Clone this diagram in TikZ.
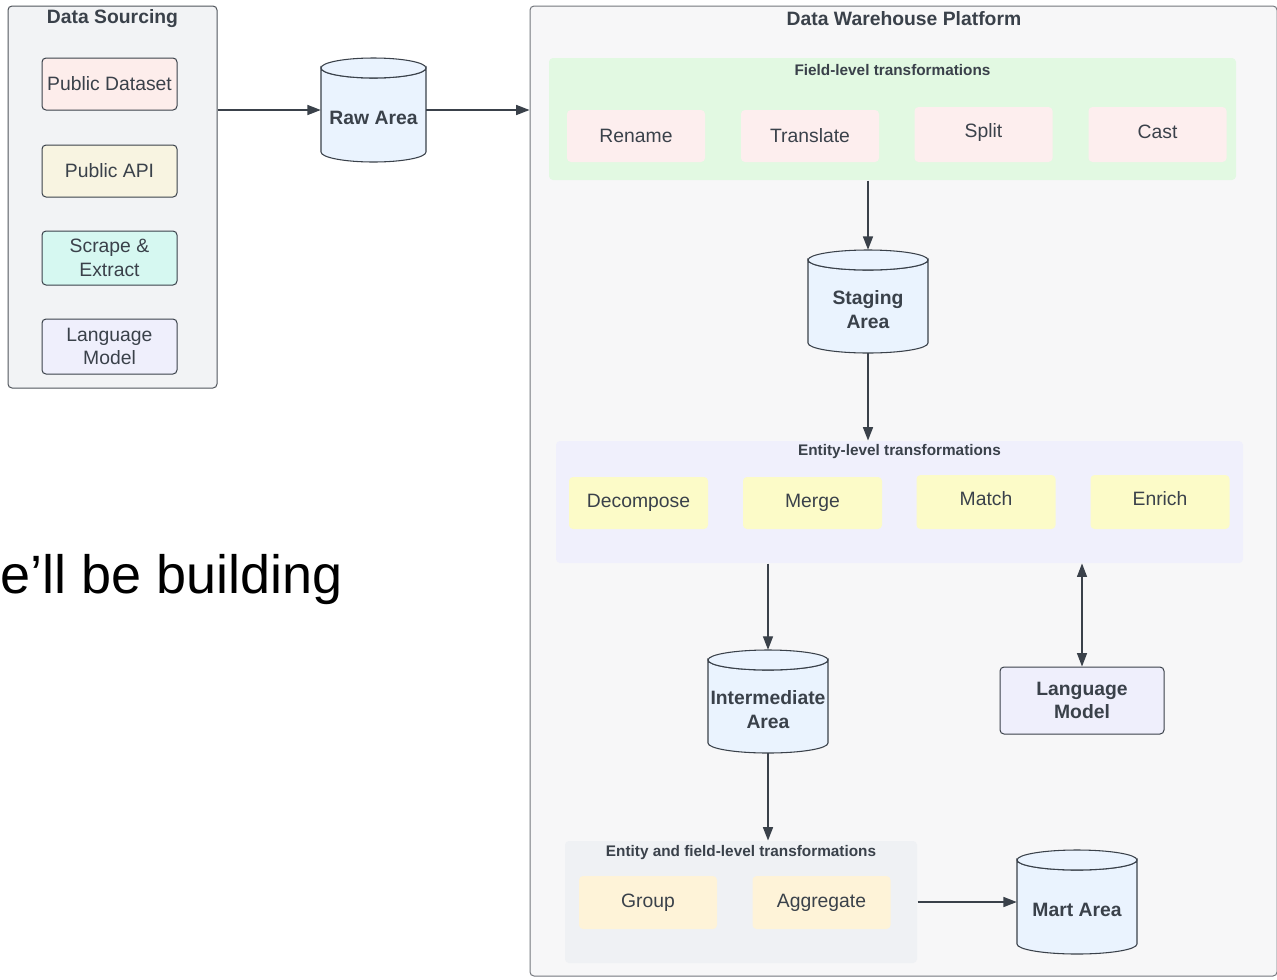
\documentclass[tikz,border=0pt]{standalone}
\usepackage{fontspec}
\setmainfont{Liberation Sans}
\usetikzlibrary{arrows.meta}
\definecolor{ink}{HTML}{3A414A}
\definecolor{dwpfill}{HTML}{F7F7F8}
\definecolor{dwpline}{HTML}{74777D}
\definecolor{dsfill}{HTML}{F2F3F5}
\definecolor{dsline}{HTML}{50555C}
\definecolor{pdfill}{HTML}{FDEDEB}
\definecolor{apifill}{HTML}{F8F4E1}
\definecolor{scrfill}{HTML}{D6F8F1}
\definecolor{lmfill}{HTML}{EFEFFC}
\definecolor{cylfill}{HTML}{EAF3FE}
\definecolor{greenfill}{HTML}{E2F9E2}
\definecolor{pinkfill}{HTML}{FDEEEE}
\definecolor{entfill}{HTML}{F0F0FC}
\definecolor{yelfill}{HTML}{FCFBC8}
\definecolor{eflfill}{HTML}{EFF1F4}
\definecolor{peachfill}{HTML}{FEF3D8}
\begin{document}
\begin{tikzpicture}[x=0.75pt,y=-0.75pt,
  lbl/.style={text=ink,font=\fontsize{14.5}{17.5}\selectfont,align=center,inner sep=0pt},
  bold/.style={text=ink,font=\bfseries\fontsize{14.5}{18}\selectfont,align=center,inner sep=0pt},
  subttl/.style={text=ink,font=\bfseries\fontsize{11.5}{13}\selectfont,inner sep=0pt},
  container/.style={rounded corners=3pt,line width=0.75pt,inner sep=0pt},
  srcbox/.style={lbl,draw=ink,line width=0.75pt,rounded corners=3pt,minimum width=101.25pt},
  tbox/.style={lbl,rounded corners=3pt,minimum width=103.5pt},
  cylshape/.style={draw=ink,fill=cylfill,line width=0.8pt},
  cylnode/.style={inner sep=0pt},
  arr/.style={draw=ink,line width=1.1pt,-{Triangle[length=10pt,width=7.5pt]}},
  thinarr/.style={draw=ink,line width=0.8pt,-{Triangle[length=10pt,width=7.5pt]}},
  dblarr/.style={draw=ink,line width=0.8pt,{Triangle[length=10pt,width=7.5pt]}-{Triangle[length=10pt,width=7.5pt]}}
]
\useasboundingbox (0,0) rectangle (1277,979);
\fill[white] (0,0) rectangle (1277,979);

% big text on the left
\node[anchor=base west,inner sep=0pt,text=black,font=\fontsize{40.5}{48}\selectfont] (bigtxt) at (0,593) {e’ll be building};

% Data Sourcing
\node[container,draw=dsline,fill=dsfill,minimum width=156.75pt,minimum height=286.5pt] (ds) at (112.5,197) {};
\node[bold] (dsttl) at (112.5,19) {Data Sourcing};
\node[srcbox,fill=pdfill,minimum height=39pt] (pd) at (109.5,84) {Public Dataset};
\node[srcbox,fill=apifill,minimum height=39pt] (api) at (109.5,171) {Public API};
\node[srcbox,fill=scrfill,minimum height=40.5pt] (scr) at (109.5,258) {Scrape \&\\Extract};
\node[srcbox,fill=lmfill,minimum height=41.25pt] (lm1) at (109.5,346.5) {Language\\Model};

% Raw Area cylinder
\filldraw[cylshape] (321,68) -- (321,152) arc[start angle=180,end angle=360,x radius=39.375pt,y radius=7.5pt] -- (426,68) arc[start angle=0,end angle=-180,x radius=39.375pt,y radius=7.5pt] -- cycle;
\filldraw[cylshape] (373.5,68) ellipse [x radius=39.375pt,y radius=7.5pt];
\node[cylnode,minimum width=78.75pt,minimum height=78pt] (raw) at (373.5,110) {};
\node[bold] (rawt) at (373.5,118) {Raw Area};

% Data Warehouse Platform
\node[container,draw=dwpline,fill=dwpfill,minimum width=560.25pt,minimum height=727.5pt] (dwp) at (903.5,491) {};
\node[bold] (dwpttl) at (904,19) {Data Warehouse Platform};

% Field-level
\node[container,fill=greenfill,minimum width=515.25pt,minimum height=91.5pt] (field) at (892.5,119) {};
\node[subttl] (fieldttl) at (892.5,70) {Field-level transformations};
\node[tbox,fill=pinkfill,minimum height=39pt] (rename) at (636,136) {Rename};
\node[tbox,fill=pinkfill,minimum height=39pt] (translate) at (810,136) {Translate};
\node[tbox,fill=pinkfill,minimum height=41.25pt] (split) at (983.5,134.5) {};
\node[lbl] (splitt) at (983.5,132) {Split};
\node[tbox,fill=pinkfill,minimum height=41.25pt] (cast) at (1157.5,134.5) {};
\node[lbl] (castt) at (1157.5,132) {Cast};

% Staging Area
\filldraw[cylshape] (808,260) -- (808,343) arc[start angle=180,end angle=360,x radius=45pt,y radius=7.5pt] -- (928,260) arc[start angle=0,end angle=-180,x radius=45pt,y radius=7.5pt] -- cycle;
\filldraw[cylshape] (868,260) ellipse [x radius=45pt,y radius=7.5pt];
\node[cylnode,minimum width=90pt,minimum height=77.25pt] (stage) at (868,301.5) {};
\node[bold] (staget) at (868,310) {Staging\\Area};

% Entity-level
\node[container,fill=entfill,minimum width=515.25pt,minimum height=91.5pt] (ent) at (899.5,502) {};
\node[subttl] (entttl) at (899.5,452) {Entity-level transformations};
\node[tbox,fill=yelfill,minimum width=104.25pt,minimum height=39pt] (decomp) at (638.5,503) {Decompose};
\node[tbox,fill=yelfill,minimum width=104.25pt,minimum height=39pt] (merge) at (812.5,503) {Merge};
\node[tbox,fill=yelfill,minimum width=104.25pt,minimum height=40.5pt] (match) at (986,502) {};
\node[lbl] (matcht) at (986,499) {Match};
\node[tbox,fill=yelfill,minimum width=104.25pt,minimum height=40.5pt] (enrich) at (1160,502) {};
\node[lbl] (enricht) at (1160,499) {Enrich};

% Intermediate Area
\filldraw[cylshape] (708,660) -- (708,743) arc[start angle=180,end angle=360,x radius=45pt,y radius=7.5pt] -- (828,660) arc[start angle=0,end angle=-180,x radius=45pt,y radius=7.5pt] -- cycle;
\filldraw[cylshape] (768,660) ellipse [x radius=45pt,y radius=7.5pt];
\node[cylnode,minimum width=90pt,minimum height=77.25pt] (inter) at (768,701.5) {};
\node[bold] (intert) at (768,709.5) {Intermediate\\Area};

% Language Model (warehouse)
\node[lbl,font=\bfseries\fontsize{14.5}{17.5}\selectfont,draw=ink,fill=lmfill,line width=0.75pt,rounded corners=3pt,minimum width=123pt,minimum height=50.25pt] (lm2) at (1082,700.5) {Language\\Model};

% Entity and field-level
\node[container,fill=eflfill,minimum width=264pt,minimum height=91.5pt] (efl) at (741,902) {};
\node[subttl] (eflttl) at (741,853) {Entity and field-level transformations};
\node[tbox,fill=peachfill,minimum height=39.75pt] (group) at (648,902.5) {Group};
\node[tbox,fill=peachfill,minimum height=39.75pt] (aggr) at (821.5,902.5) {Aggregate};

% Mart Area
\filldraw[cylshape] (1017,860) -- (1017,944) arc[start angle=180,end angle=360,x radius=45pt,y radius=7.5pt] -- (1137,860) arc[start angle=0,end angle=-180,x radius=45pt,y radius=7.5pt] -- cycle;
\filldraw[cylshape] (1077,860) ellipse [x radius=45pt,y radius=7.5pt];
\node[cylnode,minimum width=90pt,minimum height=78pt] (mart) at (1077,902) {};
\node[bold] (martt) at (1077,910) {Mart Area};

% connectors
\draw[arr] (ds.east |- raw.west) -- (raw.west);
\draw[arr] (raw.east) -- (dwp.west |- raw.east);
\draw[arr] (field.south -| stage.north) -- (stage.north);
\draw[arr] (stage.south) -- (ent.north -| stage.south);
\draw[thinarr] (ent.south -| inter.north) -- (inter.north);
\draw[dblarr] (ent.south -| lm2.north) -- (lm2.north);
\draw[arr] (inter.south) -- (efl.north -| inter.south);
\draw[arr] (efl.east |- mart.west) -- (mart.west);
\end{tikzpicture}
\end{document}
